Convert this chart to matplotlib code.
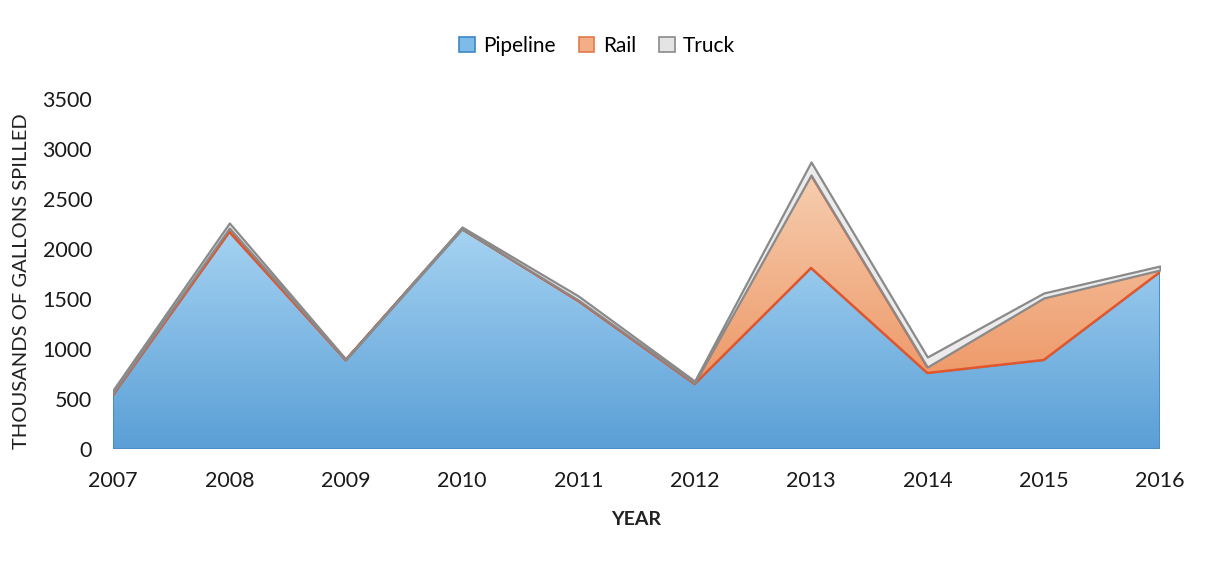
import matplotlib
matplotlib.use('Agg')
import matplotlib.pyplot as plt
import numpy as np
from matplotlib.patches import Patch
from matplotlib.colors import LinearSegmentedColormap

plt.rcParams['font.family'] = ['Lato', 'DejaVu Sans']

years = [2007, 2008, 2009, 2010, 2011, 2012, 2013, 2014, 2015, 2016]
pipeline = [540, 2170, 890, 2200, 1480, 650, 1810, 760, 890, 1770]
rail = [20, 40, 0, 0, 10, 10, 930, 60, 620, 20]
truck = [30, 50, 10, 20, 40, 20, 130, 100, 50, 40]

series_names = ['Pipeline', 'Rail', 'Truck']
y_ticks = [0, 500, 1000, 1500, 2000, 2500, 3000, 3500]


def gradient_fill(ax, poly, c_bottom, c_top, y0, y1):
    # Paint a vertical colour ramp and clip it to the area polygon
    cmap = LinearSegmentedColormap.from_list('ramp', [c_bottom, c_top])
    grad = np.linspace(0, 1, 256).reshape(-1, 1)
    im = ax.imshow(grad, cmap=cmap, aspect='auto', origin='lower',
                   extent=[years[0], years[-1], y0, y1], zorder=poly.get_zorder() - 0.1,
                   interpolation='bilinear')
    im.set_clip_path(poly.get_paths()[0], ax.transData)
    poly.set_facecolor('none')


x = np.array(years)
p = np.array(pipeline)
r = p + np.array(rail)
t = r + np.array(truck)

fig = plt.figure(figsize=(12.09, 5.61), dpi=100)
ax = fig.add_axes([0.0935, 0.1996, 0.866, 0.624])

pipe_poly = ax.fill_between(x, 0, p, edgecolor='#4A8FCB', linewidth=1.5, zorder=2)
gradient_fill(ax, pipe_poly, '#5A9FD6', '#A9D5F3', 0, 2300)

rail_poly = ax.fill_between(x, p, r, edgecolor='#E0562D', linewidth=1.8, zorder=3)
gradient_fill(ax, rail_poly, '#EE9968', '#F6CFB2', 700, 2800)

ax.fill_between(x, r, t, facecolor='#EBEBEB', edgecolor='#8A8A8A', linewidth=1.6, zorder=4)

ax.set_xlim(years[0], years[-1])
ax.set_ylim(0, 3500)
ax.set_xticks(years)
ax.set_xticklabels([str(y) for y in years], fontsize=15.5)
ax.set_yticks(y_ticks)
ax.set_yticklabels([str(v) for v in y_ticks], fontsize=15.5)
ax.tick_params(axis='both', length=0, colors='#1a1a1a')
ax.tick_params(axis='y', pad=15)
ax.tick_params(axis='x', pad=16)
for s in ax.spines.values():
    s.set_visible(False)

ax.set_xlabel('YEAR', fontsize=14, fontweight='bold', color='#222222', labelpad=14)
ax.set_ylabel('THOUSANDS OF GALLONS SPILLED', fontsize=14.5, color='#222222')
ax.yaxis.set_label_coords(-0.079, 0.48)

handles = [
    Patch(facecolor='#7DBCE9', edgecolor='#3F86C6', linewidth=1.2),
    Patch(facecolor='#F2AE86', edgecolor='#E07A4A', linewidth=1.2),
    Patch(facecolor='#E4E4E4', edgecolor='#8A8A8A', linewidth=1.2),
]
fig.legend(handles, series_names, loc='center', bbox_to_anchor=(0.494, 0.918), ncol=3,
           frameon=False, fontsize=15, handlelength=0.75, handleheight=0.75,
           handletextpad=0.4, columnspacing=1.1)

fig.savefig('out.png', dpi=100)
